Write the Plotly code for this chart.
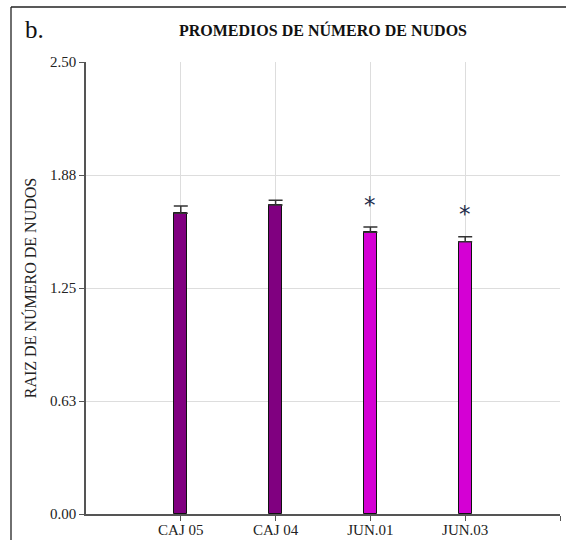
import plotly.graph_objects as go

categories = ["CAJ 05", "CAJ 04", "JUN.01", "JUN.03"]
means = [1.663, 1.709, 1.559, 1.506]
errors = [0.040, 0.026, 0.028, 0.028]
bar_colors = ["#800080", "#800080", "#D400D4", "#D400D4"]
significant = [False, False, True, True]
y_tickvals = [0.0, 0.625, 1.25, 1.875, 2.5]
y_ticktext = ["0.00", "0.63", "1.25", "1.88", "2.50"]

W, H = 566, 540
ML, MR, MT, MB = 86, 6, 62, 26
pw, ph = W - ML - MR, H - MT - MB

xs = list(range(len(categories)))

fig = go.Figure()
fig.add_trace(go.Bar(
    x=xs, y=means, width=0.14,
    marker=dict(color=bar_colors, line=dict(color="#111111", width=1)),
    error_y=dict(type="data", array=errors, arrayminus=[0] * len(errors),
                 symmetric=False, color="#333333", thickness=1.5, width=7),
    showlegend=False, hoverinfo="skip",
))

serif = "Liberation Serif"

for x, m, e, s in zip(xs, means, errors, significant):
    if s:
        fig.add_annotation(x=x, y=m + e + 0.145, text="*", showarrow=False,
                           xref="x", yref="y", yanchor="middle",
                           font=dict(family="DejaVu Sans", size=23, color="#1f2d4d"),
                           yshift=-4)

fig.add_annotation(x=(23 - ML) / pw, y=(H - MB - 30) / ph, xref="paper", yref="paper",
                   xanchor="left", yanchor="middle", text="b.", showarrow=False,
                   font=dict(family=serif, size=25, color="#111111"))

# frame lines
fx = (11 - ML) / pw
fy = (H - MB - 7) / ph
fig.add_shape(type="line", xref="paper", yref="paper", x0=fx, x1=(W - ML + 5) / pw,
              y0=fy, y1=fy, line=dict(color="#222222", width=1.3))
fig.add_shape(type="line", xref="paper", yref="paper", x0=fx, x1=fx,
              y0=fy, y1=-MB / ph - 0.02, line=dict(color="#222222", width=1.3))

fig.update_layout(
    width=W, height=H,
    margin=dict(l=ML, r=MR, t=MT, b=MB, autoexpand=False),
    paper_bgcolor="white", plot_bgcolor="white",
    title=dict(text="<b>PROMEDIOS DE NÚMERO DE NUDOS</b>", x=(ML + pw / 2) / W, xanchor="center",
               y=1 - 30 / H, yanchor="middle",
               font=dict(family=serif, size=16, color="#111111")),
    font=dict(family=serif, size=15, color="#222222"),
    xaxis=dict(range=[-1, len(categories)], tickvals=list(range(len(categories) + 1)),
               ticktext=categories + [""], showgrid=True, gridcolor="#dddddd", gridwidth=1,
               showline=True, linecolor="#555555", linewidth=1.5, ticks="outside",
               ticklen=5, tickcolor="#555555", zeroline=False, automargin=False,
               ticklabelstandoff=-4,
               tickfont=dict(family=serif, size=15, color="#222222")),
    yaxis=dict(range=[0, 2.5], tickvals=y_tickvals, ticktext=y_ticktext,
               showgrid=True, gridcolor="#dddddd", gridwidth=1,
               showline=True, linecolor="#555555", linewidth=1.5, ticks="outside",
               ticklen=5, tickcolor="#555555", zeroline=False, automargin=False,
               title=dict(text="RAIZ DE NÚMERO DE NUDOS", standoff=9,
                          font=dict(family=serif, size=16, color="#222222")),
               tickfont=dict(family=serif, size=15, color="#222222")),
    bargap=0,
)

fig.write_html("out.html", config={"displayModeBar": False},
               post_script="document.body.style.margin='0';")
